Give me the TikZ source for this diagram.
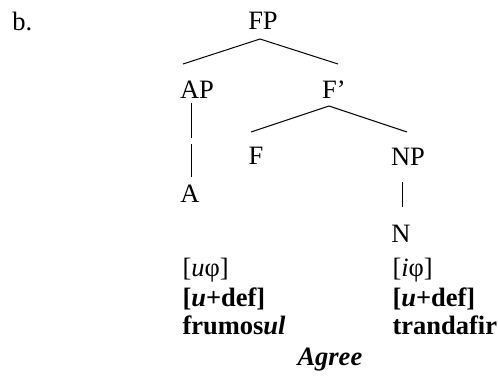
\documentclass[tikz,border=0pt]{standalone}
\usepackage{fontspec}
\setmainfont{Liberation Serif}
\usepackage{tikz}

\begin{document}
\begin{tikzpicture}[x=1pt,y=-1pt,line width=1pt,
  every node/.style={inner sep=0pt,font=\fontsize{26.5}{30}\selectfont},
  lab/.style={anchor=base},
  feat/.style={anchor=base west}]
\useasboundingbox (0,0) rectangle (498,378);
%
\node (ex) at (12,30) [feat] {b.};
%
\node (fp) at (263,29) [lab] {FP};
\node (ap) at (197,98) [lab] {AP};
\node (fbar) at (334,98) [lab] {F’};
\node (f) at (256,164) [lab] {F};
\node (np) at (408,165) [lab] {NP};
\node (a) at (190,202) [lab] {A};
\node (n) at (401,242) [lab] {N};
%
\node (a1) at (182,276) [feat] {[\textit{u}φ]};
\node (a2) at (182,306) [feat] {\textbf{[\textit{u}+def]}};
\node (a3) at (182,334) [feat] {\textbf{frumos\textit{ul}}};
\node (n1) at (392,276) [feat] {[\textit{i}φ]};
\node (n2) at (392,306) [feat] {\textbf{[\textit{u}+def]}};
\node (n3) at (392,334) [feat] {\textbf{trandafir}};
%
\node (agree) at (297,365) [feat] {\textbf{\textit{Agree}}};
%%
\coordinate (fp-s) at (260,39);
\coordinate (ap-n) at (183,64);
\coordinate (fbar-n) at (338,64);
%
\coordinate (fbar-s) at (329,106);
\coordinate (f-n) at (251,132);
\coordinate (np-n) at (407,132);
%
\coordinate (ap-s) at (191,103);
\coordinate (ap-m1) at (191,138);
\coordinate (ap-m2) at (191,144);
\coordinate (a-n) at (191,177);
%
\coordinate (np-s) at (402,182);
\coordinate (n-n) at (402,207);
%%
\draw (fp-s) edge (ap-n);
\draw (fp-s) edge (fbar-n);
%
\draw (fbar-s) edge (f-n);
\draw (fbar-s) edge (np-n);
%
\draw (ap-s) edge (ap-m1);
\draw (ap-m2) edge (a-n);
%
\draw (np-s) edge (n-n);
\end{tikzpicture}
\end{document}
